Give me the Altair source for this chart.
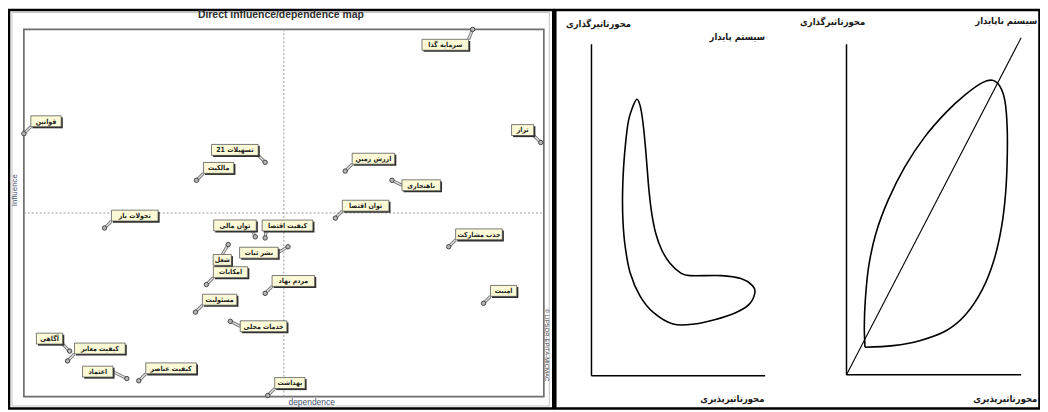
import altair as alt
import pandas as pd

# ---------------- MICMAC direct influence / dependence map ----------------
variables = ["سرمایه گذا", "قوانین", "تراز", "تسهیلات 21", "مالکیت", "ارزش زمین", "ناهنجاری",
             "توان اقتصا", "تحولات باز", "کیفیت اقتصا", "توان مالی", "جذب مشارکت", "شغل",
             "نشر ثبات", "امکانات", "مردم نهاد", "امنیت", "مسئولیت", "خدمات محلی", "آگاهی",
             "کیفیت معابر", "اعتماد", "کیفیت عناصر", "بهداشت"]
dependence = [86.3, 0.0, 99.4, 46.4, 33.2, 61.8, 70.8, 59.9, 15.5, 46.4, 44.5, 81.7, 39.3,
              50.8, 35.1, 46.4, 88.4, 33.0, 39.7, 8.8, 8.4, 19.8, 22.1, 46.9]
influence = [100.0, 71.6, 69.2, 63.8, 58.9, 61.4, 58.9, 48.6, 45.9, 43.2, 43.5, 40.8, 41.4,
             40.8, 30.5, 28.1, 25.4, 23.0, 20.5, 12.4, 9.7, 4.9, 4.3, 0.3]
label_side = ["sw", "ne", "nw", "nw", "ne", "ne", "e", "ne", "ne", "nl", "nr", "ne", "s",
              "ws", "ne", "ne", "ne", "ne", "e", "nw", "ne", "w", "ne", "ne"]
dep_threshold = 50
inf_threshold = 50

map_title = "Direct influence/dependence map"
y_title = "Influence"
x_title = "dependence"
credit = "© LIPSOR-EPITA-MICMAC"

# ---------------- schematic: stable system ----------------
stable_x = [26.1, 23.6, 21.3, 19.8, 18.5, 17.9, 18.1, 19.4, 22.3, 28.0, 35.6, 47.0, 59.4, 70.9,
            83.3, 90.9, 94.1, 92.7, 86.1, 74.7, 56.6, 50.9, 45.1, 40.4, 37.0, 34.7, 33.1, 32.0,
            30.9, 29.5, 28.0]
stable_y = [83.4, 80.9, 76.9, 71.0, 63.0, 55.0, 47.0, 39.0, 31.0, 24.0, 19.1, 15.6, 15.6, 16.9,
            19.1, 21.6, 25.1, 27.2, 29.3, 30.2, 30.2, 31.2, 34.0, 38.0, 43.0, 49.0, 56.0, 63.0,
            70.0, 77.0, 81.5]

# ---------------- schematic: unstable system ----------------
unstable_x = [10.6, 10.2, 10.8, 12.7, 16.9, 23.9, 33.4, 44.7, 57.0, 68.4, 77.8, 83.5, 87.7, 90.7,
              92.0, 92.0, 91.1, 88.8, 84.5, 77.8, 68.4, 57.0, 41.9, 26.7, 10.6]
unstable_y = [8.3, 14.8, 22.8, 32.8, 42.9, 52.9, 62.9, 71.9, 79.4, 84.9, 88.4, 89.1, 87.4, 82.9,
              74.9, 64.9, 54.9, 44.8, 34.8, 25.8, 18.3, 13.3, 10.3, 8.8, 8.3]
diag_x = [0, 100]
diag_y = [0, 102]

axis_label_y = "محورتاثیرگذاری"
axis_label_x = "محورتاثیرپذیری"
stable_label = "سیستم پایدار"
unstable_label = "سیستم ناپایدار"

# ---------------- layout (pixel ranges of each panel) ----------------
MX = [16, 540]
MY = [390, 20]
S1X = [588, 763]
S1Y = [369, 35]
S2X = [845, 1021]
S2Y = [368, 35]
DOM = [0, 100]

FA = "DejaVu Sans Condensed"


def sc(rng):
    return alt.Scale(domain=DOM, range=rng, nice=False, zero=False)


def X(f, rng):
    return alt.X(f, type="quantitative", scale=sc(rng), axis=None)


def Y(f, rng):
    return alt.Y(f, type="quantitative", scale=sc(rng), axis=None)


# ---- build MICMAC table with label boxes ----
KX = (MX[1] - MX[0]) / 100.0
KY = (MY[0] - MY[1]) / 100.0
BH = 11.0

rows = []
for name, d, i, side in zip(variables, dependence, influence, label_side):
    px = MX[0] + d * KX
    py = MY[0] - i * KY
    w = 4.1 * len(name) + 6
    if side == "ne":
        l = px + 7; t = py - 7 - BH; ax, ay = l, t + BH
    elif side == "nw":
        l = px - 7 - w; t = py - 7 - BH; ax, ay = l + w, t + BH
    elif side == "nl":
        l = px - 3; t = py - 7 - BH; ax, ay = l + 4, t + BH
    elif side == "nr":
        l = px + 1 - w; t = py - 6 - BH; ax, ay = l + w - 4, t + BH
    elif side == "e":
        l = px + 10; t = py + 5 - BH / 2; ax, ay = l, t + BH / 2
    elif side == "sw":
        l = px - 4 - w; t = py + 10; ax, ay = l + w, t
    elif side == "s":
        l = px - 6 - w / 2; t = py + 10; ax, ay = l + w / 2, t
    elif side == "w":
        l = px - 14 - w; t = py - 7 - BH / 2; ax, ay = l + w, t + BH / 2
    else:  # "ws"
        l = px - 10 - w; t = py + 6 - BH / 2; ax, ay = l + w, t + BH / 2
    r = l + w
    b = t + BH

    def tx(v):
        return (v - MX[0]) / KX

    def ty(v):
        return (MY[0] - v) / KY

    rows.append(dict(var=name, dep=d, inf=i,
                     ax=tx(ax), ay=ty(ay),
                     bx1=tx(l), bx2=tx(r), by1=ty(b), by2=ty(t),
                     sx1=tx(l + 1.6), sx2=tx(r + 1.6), sy1=ty(b + 1.6), sy2=ty(t + 1.6),
                     cx=tx((l + r) / 2), cy=ty((t + b) / 2 + 0.3)))
micmac = pd.DataFrame(rows)

layers = []

# outer panel borders
layers.append(alt.Chart().mark_rect(fillOpacity=0, stroke="#c4c4c4", strokeWidth=1).encode(
    x=alt.value(4), x2=alt.value(545.5), y=alt.value(3), y2=alt.value(399.5)))
layers.append(alt.Chart().mark_rect(fillOpacity=0, stroke="black", strokeWidth=2.6).encode(
    x=alt.value(1), x2=alt.value(549.5), y=alt.value(0.5), y2=alt.value(402)))
layers.append(alt.Chart().mark_rect(fillOpacity=0, stroke="black", strokeWidth=2.6).encode(
    x=alt.value(551.5), x2=alt.value(1039.5), y=alt.value(0.5), y2=alt.value(402)))

# MICMAC frame
frame_df = pd.DataFrame({"x": [DOM[0]], "x2": [DOM[1]], "y": [DOM[0]], "y2": [DOM[1]]})
layers.append(alt.Chart(frame_df).mark_rect(fillOpacity=0, stroke="#6e6e6e", strokeWidth=1.7).encode(
    x=X("x", MX), x2="x2:Q", y=Y("y", MY), y2="y2:Q"))

# mean lines
vline = pd.DataFrame({"x": [dep_threshold], "y": [DOM[0]], "y2": [DOM[1]]})
hline = pd.DataFrame({"y": [inf_threshold], "x": [DOM[0]], "x2": [DOM[1]]})
layers.append(alt.Chart(vline).mark_rule(color="#9a9a9a", strokeWidth=1, strokeDash=[2, 2]).encode(
    x=X("x", MX), y=Y("y", MY), y2="y2:Q"))
layers.append(alt.Chart(hline).mark_rule(color="#9a9a9a", strokeWidth=1, strokeDash=[2, 2]).encode(
    y=Y("y", MY), x=X("x", MX), x2="x2:Q"))

base = alt.Chart(micmac)
# connectors
layers.append(base.mark_rule(color="#7d7d7d", strokeWidth=3.2).encode(
    x=X("dep", MX), y=Y("inf", MY), x2="ax:Q", y2="ay:Q"))
layers.append(base.mark_rule(color="#e6e6e6", strokeWidth=1.2).encode(
    x=X("dep", MX), y=Y("inf", MY), x2="ax:Q", y2="ay:Q"))
# points
layers.append(base.mark_circle(size=20, color="#b5b5b5", stroke="#3a3a3a", strokeWidth=0.9, opacity=1).encode(
    x=X("dep", MX), y=Y("inf", MY)))
# label shadows + boxes + text
layers.append(base.mark_rect(color="#2e2e2e").encode(
    x=X("sx1", MX), x2="sx2:Q", y=Y("sy1", MY), y2="sy2:Q"))
layers.append(base.mark_rect(fill="#fcfad6", stroke="#444444", strokeWidth=0.7).encode(
    x=X("bx1", MX), x2="bx2:Q", y=Y("by1", MY), y2="by2:Q"))
layers.append(base.mark_text(font=FA, fontSize=7, fontWeight="bold", color="#222222",
                             align="center", baseline="middle").encode(
    x=X("cx", MX), y=Y("cy", MY), text="var:N"))

# MICMAC texts
layers.append(alt.Chart().mark_text(font="Liberation Sans", fontSize=10.5, fontWeight="bold",
                                    color="#2e2e2e", align="center", baseline="middle").encode(
    x=alt.value(275), y=alt.value(6), text=alt.value(map_title)))
layers.append(alt.Chart().mark_text(font="Liberation Sans", fontSize=8, color="#45506e",
                                    align="center", baseline="middle", angle=270).encode(
    x=alt.value(7), y=alt.value(182), text=alt.value(y_title)))
layers.append(alt.Chart().mark_text(font="Liberation Sans", fontSize=8.5, color="#45506e",
                                    align="center", baseline="middle").encode(
    x=alt.value(306), y=alt.value(396), text=alt.value(x_title)))
layers.append(alt.Chart().mark_text(font="Liberation Sans", fontSize=6, color="#333333",
                                    align="center", baseline="middle", angle=90).encode(
    x=alt.value(543.5), y=alt.value(338), text=alt.value(credit)))

# ---- stable schematic ----
ax_df = pd.DataFrame({"x": [DOM[0], DOM[0]], "y": [DOM[0], DOM[0]],
                      "x2": [DOM[1], DOM[0]], "y2": [DOM[0], DOM[1]]})
layers.append(alt.Chart(ax_df).mark_rule(color="black", strokeWidth=1.5).encode(
    x=X("x", S1X), y=Y("y", S1Y), x2="x2:Q", y2="y2:Q"))
st_df = pd.DataFrame({"x": stable_x, "y": stable_y, "i": list(range(len(stable_x)))})
layers.append(alt.Chart(st_df).mark_line(color="black", strokeWidth=1.6, interpolate="cardinal-closed").encode(
    x=X("x", S1X), y=Y("y", S1Y), order="i:Q"))

# ---- unstable schematic ----
layers.append(alt.Chart(ax_df).mark_rule(color="black", strokeWidth=1.5).encode(
    x=X("x", S2X), y=Y("y", S2Y), x2="x2:Q", y2="y2:Q"))
dg_df = pd.DataFrame({"x": [diag_x[0]], "y": [diag_y[0]], "x2": [diag_x[1]], "y2": [diag_y[1]]})
layers.append(alt.Chart(dg_df).mark_rule(color="black", strokeWidth=1.1).encode(
    x=X("x", S2X), y=Y("y", S2Y), x2="x2:Q", y2="y2:Q"))
un_df = pd.DataFrame({"x": unstable_x, "y": unstable_y, "i": list(range(len(unstable_x)))})
layers.append(alt.Chart(un_df).mark_line(color="black", strokeWidth=1.6, interpolate="cardinal").encode(
    x=X("x", S2X), y=Y("y", S2Y), order="i:Q"))

# schematic labels
for txt, xx, yy in [(axis_label_y, 595, 15), (stable_label, 735, 28), (axis_label_x, 730, 392),
                    (axis_label_y, 831, 13), (unstable_label, 1006, 12), (axis_label_x, 1005, 392)]:
    layers.append(alt.Chart().mark_text(font=FA, fontSize=9.5, fontWeight="bold", color="#1a1a1a",
                                        align="center", baseline="middle").encode(
        x=alt.value(xx), y=alt.value(yy), text=alt.value(txt)))

chart = alt.layer(*layers).resolve_scale(x="independent", y="independent").properties(
    width=1040, height=404, autosize=alt.AutoSizeParams(type="none"), padding=0, background="white"
).configure_view(strokeWidth=0)

chart.save("out.html", embed_options={"renderer": "svg", "actions": False})
